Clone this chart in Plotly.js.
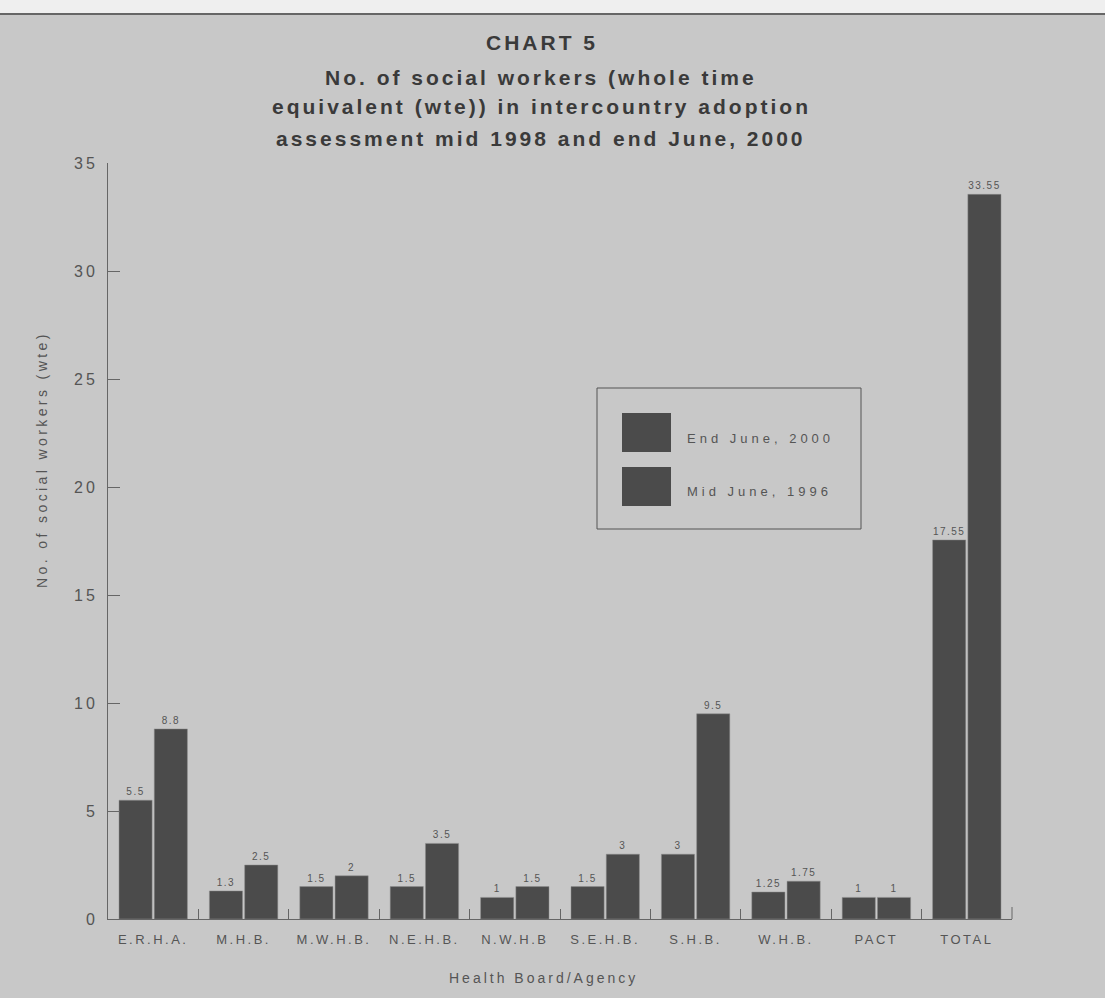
<!DOCTYPE html>
<html>
<head>
<meta charset="utf-8">
<script src="https://cdn.plot.ly/plotly-3.0.1.min.js"></script>
<style>html,body{margin:0;padding:0;background:#c8c8c8;}#chart{width:1105px;height:998px;}</style>
</head>
<body>
<div id="chart"></div>
<script>
var categories = ["E.R.H.A.", "M.H.B.", "M.W.H.B.", "N.E.H.B.", "N.W.H.B", "S.E.H.B.", "S.H.B.", "W.H.B.", "PACT", "TOTAL"];
var end2000 = [5.5, 1.3, 1.5, 1.5, 1, 1.5, 3, 1.25, 1, 17.55];
var mid1996 = [8.8, 2.5, 2, 3.5, 1.5, 3, 9.5, 1.75, 1, 33.55];
var seriesNames = ["End June, 2000", "Mid June, 1996"];
var yTicks = [0, 5, 10, 15, 20, 25, 30, 35];

var FONT = "Liberation Sans, Arial, sans-serif";
var barColor = "#4b4b4b";
function sp(t, ls) { return '<span style="letter-spacing:' + ls + 'px">' + t + '</span>'; }

function mk(vals, name) {
  return {
    type: "bar", x: categories, y: vals, name: name,
    text: vals.map(function(v){ return sp(String(v), 1.5); }),
    textposition: "outside", cliponaxis: false,
    textfont: {family: FONT, size: 10, color: "#555"},
    marker: {color: barColor, line: {color: "#8f8f8f", width: 0.5}},
    showlegend: false, hoverinfo: "x+y+name"
  };
}

var data = [mk(end2000, seriesNames[0]), mk(mid1996, seriesNames[1])];

function px(x){return (x-108)/904;}
function py(y){return (919-y)/756;}

var titleFont = {family: FONT, size: 21, color: "#3a3a3a"};
var lines = ["No. of social workers (whole time", "equivalent (wte)) in intercountry adoption", "assessment mid 1998 and end June, 2000"];
var lineY = [77, 107, 138];
var ann = lines.map(function(t, i){
  return {text: "<b>" + sp(t, 3) + "</b>", xref: "paper", yref: "paper", x: px(541),
    y: py(lineY[i]), xanchor: "center", yanchor: "middle", showarrow: false, font: titleFont};
});
ann.push({text: sp("No. of social workers (wte)", 3.4), textangle: -90, xref: "paper", yref: "paper",
  x: px(42), y: py(460), xanchor: "center", yanchor: "middle", showarrow: false,
  font: {family: FONT, size: 14, color: "#555"}});
ann.push({text: sp(seriesNames[0], 4), xref: "paper", yref: "paper", x: px(685), y: py(438),
  xanchor: "left", yanchor: "middle", showarrow: false, font: {family: FONT, size: 13, color: "#555"}});
ann.push({text: sp(seriesNames[1], 4), xref: "paper", yref: "paper", x: px(685), y: py(491),
  xanchor: "left", yanchor: "middle", showarrow: false, font: {family: FONT, size: 13, color: "#555"}});
ann.push({text: sp("Health Board/Agency", 3), xref: "paper", yref: "paper", x: px(543), y: py(978),
  xanchor: "center", yanchor: "middle", showarrow: false, font: {family: FONT, size: 14, color: "#555"}});

var shapes = [
  {type: "rect", xref: "paper", yref: "paper", x0: px(0), x1: px(1105), y0: py(0), y1: py(13), fillcolor: "#efefef", line: {width: 0}, layer: "below"},
  {type: "line", xref: "paper", yref: "paper", x0: px(0), x1: px(1105), y0: py(14), y1: py(14), line: {color: "#666", width: 2}},
  {type: "line", xref: "paper", yref: "paper", x0: 1, x1: 1, y0: 0, y1: py(907), line: {color: "#666", width: 1}},
  {type: "rect", xref: "paper", yref: "paper", x0: px(597), x1: px(861), y0: py(388), y1: py(529), line: {color: "#555", width: 1}, fillcolor: "rgba(0,0,0,0)"},
  {type: "rect", xref: "paper", yref: "paper", x0: px(622), x1: px(671), y0: py(413), y1: py(452), line: {width: 0}, fillcolor: barColor},
  {type: "rect", xref: "paper", yref: "paper", x0: px(622), x1: px(671), y0: py(467), y1: py(506), line: {width: 0}, fillcolor: barColor}
];

var layout = {
  width: 1105, height: 998,
  paper_bgcolor: "#c8c8c8", plot_bgcolor: "#c8c8c8",
  margin: {l: 108, r: 93, t: 163, b: 79},
  title: {text: "<b>" + sp("CHART 5", 3) + "</b>", x: 542/1105, xanchor: "center", y: 1 - 43/998, yanchor: "middle", font: titleFont},
  barmode: "group", bargap: 0.22, bargroupgap: 0.06,
  showlegend: false,
  xaxis: {
    type: "category", showline: true, linecolor: "#666", linewidth: 1,
    tickvals: categories, ticktext: categories.map(function(c){ return sp(c, 2.5); }),
    tickangle: 0, ticklabelstandoff: 8,
    ticks: "inside", tickson: "boundaries", ticklen: 10, tickcolor: "#666",
    tickfont: {family: FONT, size: 13, color: "#555"},
    showgrid: false, zeroline: false
  },
  yaxis: {
    range: [0, 35], tickvals: yTicks, ticktext: yTicks.map(function(v){ return sp(String(v), 3); }),
    showline: true, linecolor: "#666", linewidth: 1,
    ticks: "inside", ticklen: 12, tickcolor: "#666", ticklabelstandoff: 6,
    tickfont: {family: FONT, size: 16, color: "#555"},
    showgrid: false, zeroline: false
  },
  annotations: ann,
  shapes: shapes
};

Plotly.newPlot("chart", data, layout, {displayModeBar: false});
</script>
</body>
</html>
